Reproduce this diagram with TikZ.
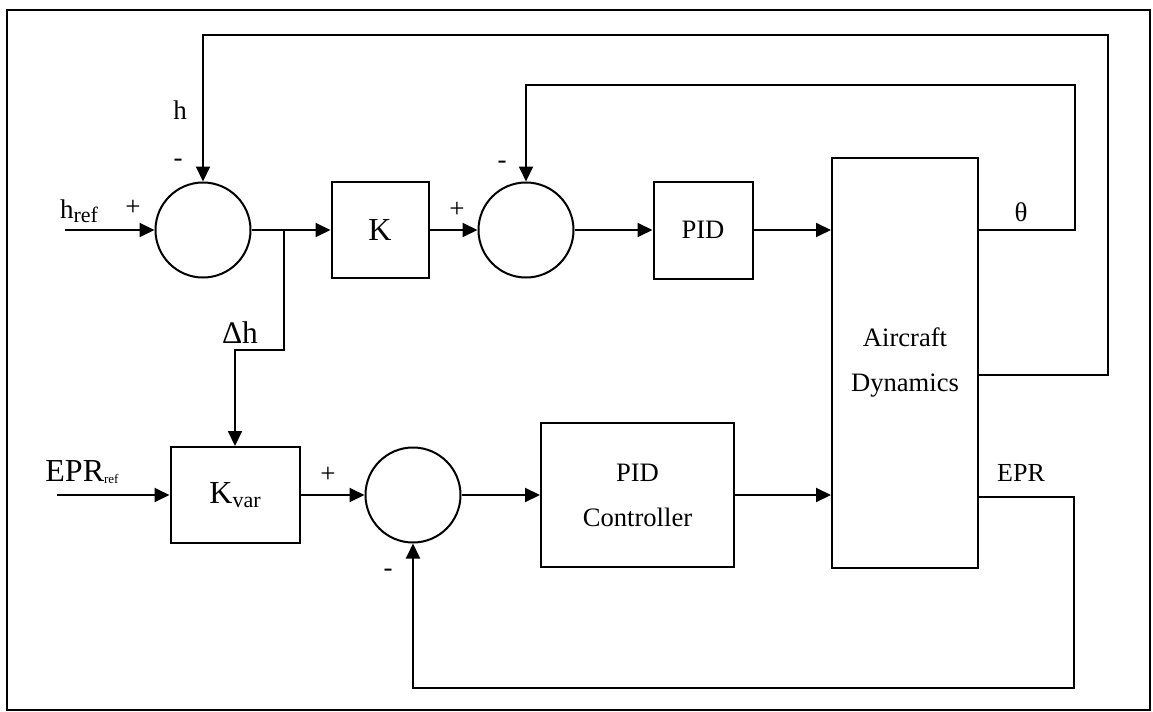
\documentclass[tikz,border=0pt]{standalone}
\usepackage{fontspec}
\setmainfont{Liberation Serif}
\usetikzlibrary{arrows.meta}
\newcommand{\lowsub}[3]{\raisebox{-#1}{\fontsize{#2}{#2}\selectfont #3}}

\begin{document}
\begin{tikzpicture}[
    x=0.5pt, y=-0.5pt,
    line width=1pt,
    box/.style={rectangle, draw, inner sep=0pt, align=center, font=\fontsize{13.3}{22.5}\selectfont},
    sum/.style={circle, draw, minimum size=47.5pt, inner sep=0pt},
    arrow/.style={-{Triangle[length=7.5pt, width=7pt]}},
    lbl/.style={inner sep=0pt, font=\fontsize{13.5}{15}\selectfont}
]
    \useasboundingbox (0,0) rectangle (1153,712);
    \draw (7,10) rectangle (1150,710);

    % upper loop
    \node[sum] (sum1) at (203,230) {};
    \node[box, minimum width=48.5pt, minimum height=48pt, font=\fontsize{16}{18}\selectfont] (gain) at (380,230) {K};
    \node[sum] (sum2) at (526,230) {};
    \node[box, minimum width=49.5pt, minimum height=48.5pt] (pid) at (703,230) {PID};
    \node[box, minimum width=73pt, minimum height=205pt] (plant) at (905,363) {Aircraft\\Dynamics};

    % lower loop
    \node[box, minimum width=64.5pt, minimum height=48pt, font=\fontsize{16}{18}\selectfont] (kvar) at (235,495) {K\lowsub{1.7pt}{11}{var}};
    \node[sum] (sum3) at (413,495) {};
    \node[box, minimum width=96.5pt, minimum height=72pt] (pidc) at (637.5,495) {PID\\Controller};

    \coordinate (hin) at (65,230);
    \coordinate (eprin) at (57,495);
    \coordinate (split) at (284,230);
    \coordinate (step) at (284,350);
    \coordinate (thturn) at (1075,230);
    \coordinate (thtop) at (1075,85);
    \coordinate (hturn) at (1108,375);
    \coordinate (htop) at (1108,35);
    \coordinate (eprturn) at (1074,497);
    \coordinate (eprbot) at (1074,688);

    \draw[arrow] (hin) -- (sum1.west);
    \draw[arrow] (sum1.east) -- (gain.west);
    \draw[arrow] (gain.east) -- (sum2.west);
    \draw[arrow] (sum2.east) -- (pid.west);
    \draw[arrow] (pid.east) -- (pid.east -| plant.west);
    \draw[arrow] (plant.east |- thturn) -- (thturn) -- (thtop) -| (sum2.north);
    \draw[arrow] (plant.east |- hturn) -- (hturn) -- (htop) -| (sum1.north);
    \draw[arrow] (split) -- (step) -| (kvar.north);

    \draw[arrow] (eprin) -- (kvar.west);
    \draw[arrow] (kvar.east) -- (sum3.west);
    \draw[arrow] (sum3.east) -- (pidc.west);
    \draw[arrow] (pidc.east) -- (pidc.east -| plant.west);
    \draw[arrow] (plant.east |- eprturn) -- (eprturn) -- (eprbot) -| (sum3.south);

    % signal names and signs
    \node[lbl] (hreflbl) at (79,211) {h\lowsub{2pt}{11}{ref}};
    \node[lbl] (plus1) at (133,208) {+};
    \node[lbl] (minus1) at (178,163) {-};
    \node[lbl] (hlbl) at (180,110) {h};
    \node[lbl] (plus2) at (457,210) {+};
    \node[lbl] (minus2) at (502,165) {-};
    \node[lbl, font=\fontsize{15.7}{17}\selectfont] (dhlbl) at (240,333) {Δh};
    \node[lbl, font=\fontsize{16}{18}\selectfont] (eprreflbl) at (82,472) {EPR\lowsub{1pt}{6.5}{ref}};
    \node[lbl] (plus3) at (328,475) {+};
    \node[lbl] (minus3) at (388,573) {-};
    \node[lbl] (thlbl) at (1021,212) {θ};
    \node[lbl, font=\fontsize{13}{15}\selectfont] (eprlbl) at (1021,473) {EPR};
\end{tikzpicture}
\end{document}
